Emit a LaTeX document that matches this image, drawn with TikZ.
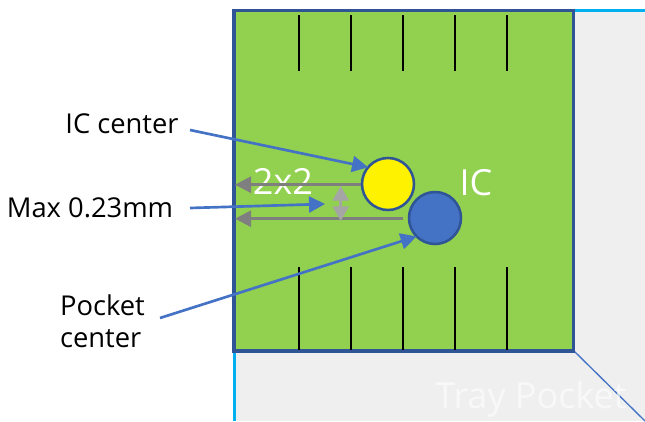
\documentclass[tikz,border=0pt]{standalone}
\usepackage{fontspec}
\setmainfont{Open Sans}
\usetikzlibrary{arrows.meta}
\definecolor{pocketgray}{HTML}{EFEFEF}
\definecolor{traycyan}{HTML}{00B0F0}
\definecolor{icgreen}{HTML}{92D050}
\definecolor{edgeblue}{HTML}{2F5597}
\definecolor{linkblue}{HTML}{4472C4}
\definecolor{dimgray}{HTML}{7F7F7F}
\definecolor{gapgray}{HTML}{A5A5A5}
\tikzset{
  x=0.75pt,y=-0.75pt,
  label text/.style={font=\fontsize{20.5pt}{24pt}\selectfont,text=black,inner sep=0pt,align=left},
  white text/.style={font=\fontsize{27pt}{32pt}\selectfont,text=white,inner sep=0pt},
  pocket text/.style={font=\fontsize{27pt}{32pt}\selectfont,text=white,opacity=.6,inner sep=0pt},
  link/.style={draw=linkblue,line width=2pt,-{Triangle[length=12pt,width=12pt]}},
  dim/.style={draw=dimgray,line width=2pt,-{Triangle[length=12pt,width=12pt]}},
  gap/.style={draw=gapgray,line width=2pt,{Triangle[length=11pt,width=12pt]}-{Triangle[length=11pt,width=12pt]}},
  tick/.style={draw=black,line width=1.8pt},
  center mark/.style={circle,draw=edgeblue,line width=1.9pt,minimum size=39pt,inner sep=0pt,outer sep=0pt},
}
\begin{document}
\begin{tikzpicture}
\useasboundingbox (0,0) rectangle (645,421);
% tray pocket
\fill[pocketgray] (234.5,10.5) rectangle (645,421);
\draw[traycyan,line width=2pt] (645,10.5) -- (234.7,10.5) -- (234.7,421);
\draw[linkblue,line width=1pt] (574,351) -- (645,421);
\node[pocket text] (pocket) at (531,399) {Tray Pocket};
% IC
\node[draw=edgeblue,fill=icgreen,line width=2.3pt,minimum width=339.5*0.75pt,minimum height=340.5*0.75pt,inner sep=0pt,outer sep=0pt,anchor=north west] (ic) at (234,10.5) {};
\foreach \x in {299,351,403,455,507}{
  \coordinate (t1) at (\x,15); \coordinate (t2) at (\x,71);
  \coordinate (b1) at (\x,267); \coordinate (b2) at (\x,350);
  \draw[tick] (t1) -- (t2);
  \draw[tick] (b1) -- (b2);
}
\node[white text] (twobytwo) at (283,181) {2x2};
\node[white text] (iclabel) at (476,183) {IC};
% dimensions
\coordinate (leftA) at (235,184.7);
\coordinate (leftB) at (235,218.7);
\coordinate (ycStart) at (364,184.7);
\draw[dim] (ycStart) -- (leftA);
\coordinate (bcStart) at (403,218.7);
\draw[dim] (bcStart) -- (leftB);
\coordinate (gapT) at (340.7,186);
\coordinate (gapB) at (340.7,221);
\draw[gap] (gapT) -- (gapB);
% centres
\node[center mark,fill=yellow] (yc) at (388,184) {};
\node[center mark,fill=linkblue] (bc) at (435,218) {};
% labels
\node[label text] (lic) at (122,124) {IC center};
\node[label text] (lmax) at (90,208) {Max 0.23mm};
\node[label text] (lpocket) at (102.5,321) {Pocket\\center};
\coordinate (licS) at (190,130);
\coordinate (lmaxS) at (190,208);
\coordinate (lmaxE) at (325,204);
\coordinate (lpocketS) at (160,318);
\draw[link] (licS) -- (yc.140);
\draw[link] (lmaxS) -- (lmaxE);
\draw[link] (lpocketS) -- (bc.225);
\end{tikzpicture}
\end{document}
